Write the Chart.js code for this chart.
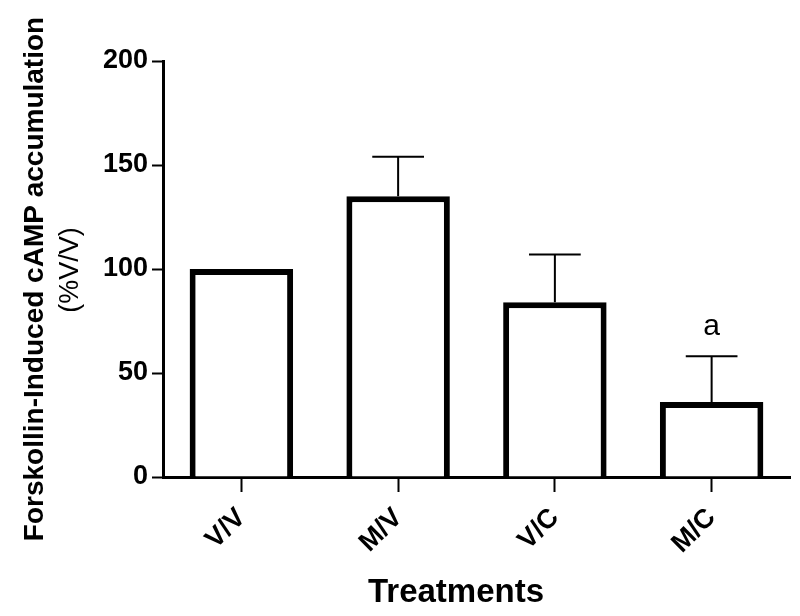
<!DOCTYPE html>
<html>
<head>
<meta charset="utf-8">
<script src="https://cdn.jsdelivr.net/npm/chart.js@4"></script>
<style>
  html, body { margin: 0; padding: 0; background: #fff; }
  #wrap { width: 800px; height: 616px; position: relative; }
</style>
</head>
<body>
<div id="wrap"><canvas id="c" width="800" height="616"></canvas></div>
<script>
const categories = ['V/V', 'M/V', 'V/C', 'M/C'];
const means = [100, 135, 84, 36];
const errors = [0, 19, 23, 22];
const sigLabels = ['', '', '', 'a'];
const yMin = 0, yMax = 200, yStep = 50;
const yTitleMain = 'Forskollin-Induced cAMP accumulation';
const yTitleSub = '(%V/V)';
const xTitle = 'Treatments';

const FONT = '"Liberation Sans", Arial, Helvetica, sans-serif';

const extrasPlugin = {
  id: 'extras',
  afterDatasetsDraw(chart) {
    const ctx = chart.ctx;
    const ys = chart.scales.y;
    const meta = chart.getDatasetMeta(0);
    ctx.save();
    ctx.strokeStyle = '#000';
    ctx.lineWidth = 2;
    meta.data.forEach((bar, i) => {
      const err = errors[i];
      const yv = ys.getPixelForValue(means[i]);
      const yt = ys.getPixelForValue(means[i] + err);
      if (err > 0) {
        ctx.beginPath();
        ctx.moveTo(bar.x, yv);
        ctx.lineTo(bar.x, yt);
        ctx.moveTo(bar.x - bar.width / 4, yt);
        ctx.lineTo(bar.x + bar.width / 4, yt);
        ctx.stroke();
      }
      if (sigLabels[i]) {
        ctx.fillStyle = '#000';
        ctx.font = '30px ' + FONT;
        ctx.textAlign = 'center';
        ctx.textBaseline = 'alphabetic';
        ctx.fillText(sigLabels[i], bar.x, yt - 21);
      }
    });
    ctx.restore();
  },
  afterDraw(chart) {
    const ctx = chart.ctx;
    ctx.save();
    ctx.fillStyle = '#000';
    ctx.textAlign = 'center';
    ctx.textBaseline = 'alphabetic';
    ctx.save();
    ctx.translate(43, 279);
    ctx.rotate(-Math.PI / 2);
    ctx.font = 'bold 28px ' + FONT;
    ctx.fillText(yTitleMain, 0, 0);
    ctx.restore();
    ctx.save();
    ctx.translate(78, 270);
    ctx.rotate(-Math.PI / 2);
    ctx.font = '27px ' + FONT;
    ctx.fillText(yTitleSub, 0, 0);
    ctx.restore();
    ctx.font = 'bold 33px ' + FONT;
    ctx.fillText(xTitle, 456, 602);
    ctx.restore();
  }
};

new Chart(document.getElementById('c'), {
  type: 'bar',
  data: {
    labels: categories,
    datasets: [{
      data: means,
      backgroundColor: '#ffffff',
      borderColor: '#000000',
      borderWidth: 6,
      borderSkipped: 'start',
      barPercentage: 0.66,
      categoryPercentage: 1.0
    }]
  },
  options: {
    responsive: false,
    animation: false,
    devicePixelRatio: 1,
    layout: { padding: { top: 61, right: 10, left: 0, bottom: 0 } },
    plugins: {
      legend: { display: false },
      tooltip: { enabled: false },
      title: { display: false }
    },
    scales: {
      x: {
        afterFit(scale) { scale.height = 139; },
        grid: {
          display: true,
          drawOnChartArea: false,
          drawTicks: true,
          offset: false,
          tickLength: 15,
          tickWidth: 2,
          tickColor: '#000'
        },
        border: { display: true, color: '#000', width: 3 },
        ticks: {
          color: '#000',
          font: { family: FONT, size: 27, weight: 'bold' },
          minRotation: 45,
          maxRotation: 45,
          padding: 10,
          autoSkip: false
        }
      },
      y: {
        min: yMin,
        max: yMax,
        afterFit(scale) { scale.width = 163; },
        grid: {
          display: true,
          drawOnChartArea: false,
          drawTicks: true,
          tickLength: 11,
          tickWidth: 2,
          tickColor: '#000'
        },
        border: { display: true, color: '#000', width: 3 },
        ticks: {
          stepSize: yStep,
          color: '#000',
          font: { family: FONT, size: 27, weight: 'bold' },
          padding: 4
        }
      }
    }
  },
  plugins: [extrasPlugin]
});
</script>
</body>
</html>
